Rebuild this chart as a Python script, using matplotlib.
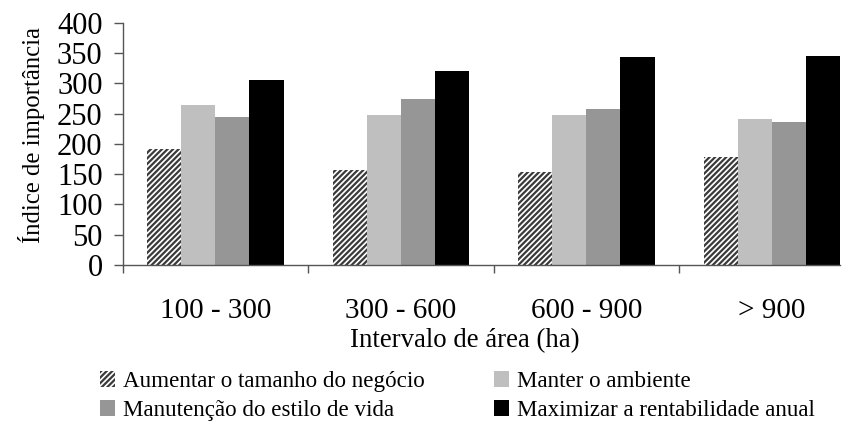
import matplotlib
matplotlib.use("Agg")
import matplotlib.pyplot as plt
import numpy as np

categories = ["100 - 300", "300 - 600", "600 - 900", "> 900"]
series_names = ["Aumentar o tamanho do negócio", "Manter o ambiente",
                "Manutenção do estilo de vida", "Maximizar a rentabilidade anual"]
aumentar = [191, 157, 153, 178]
manter = [264, 248, 248, 241]
manutencao = [244, 274, 257, 236]
maximizar = [305, 320, 343, 345]
yticks = [0, 50, 100, 150, 200, 250, 300, 350, 400]

plt.rcParams['font.family'] = ['Liberation Serif', 'DejaVu Serif']
plt.rcParams['hatch.linewidth'] = 1.6
plt.rcParams['hatch.color'] = '#3a3a3a'

fig = plt.figure(figsize=(8.58, 4.26), dpi=100)
ax = fig.add_axes([122.7/858, 1-265/426, (840-122.7)/858, (265-22.7)/426])

w = 0.1835
x = np.arange(len(categories))
data = [aumentar, manter, manutencao, maximizar]
styles = [dict(color='white', hatch='//////', edgecolor='#3a3a3a', linewidth=0),
          dict(color='#bfbfbf'),
          dict(color='#969696'),
          dict(color='black')]
handles = []
for i, (vals, st) in enumerate(zip(data, styles)):
    b = ax.bar(x + (i - 1.5) * w, vals, w, label=series_names[i], **st)
    handles.append(b)

ax.set_xlim(-0.5, 3 + 2 * w)
ax.set_ylim(0, 400)
ax.set_yticks(yticks)
ax.set_yticklabels([str(v) for v in yticks], fontsize=22)
ax.set_xticks(x)
ax.set_xticklabels(categories, fontsize=21)
ax.set_xticks([-0.5, 0.5, 1.5, 2.5], minor=True)
ax.tick_params(axis='x', which='major', length=0, pad=24)
ax.tick_params(axis='x', which='minor', length=6, width=1, direction='out', color='#555555')
ax.tick_params(axis='y', length=6.5, width=1, direction='out', color='#555555', pad=8)
for s in ['top', 'right']:
    ax.spines[s].set_visible(False)
for s in ['left', 'bottom']:
    ax.spines[s].set_color('#555555')
    ax.spines[s].set_linewidth(1)

fig.text(32/858, 1-135/426, "Índice de importância", rotation=90, fontsize=17.8,
         ha='center', va='center')
fig.text(465/858, 1-341/426, "Intervalo de área (ha)", fontsize=19.3,
         ha='center', va='center')

order = [0, 2, 1, 3]
leg = fig.legend([handles[i] for i in order], [series_names[i] for i in order],
                 ncol=2, loc='center left', bbox_to_anchor=(100/858, 1-396/426),
                 frameon=False, fontsize=16.6, handlelength=0.65, handleheight=0.65,
                 handletextpad=0.35, columnspacing=3.0, labelspacing=0.35,
                 borderpad=0, borderaxespad=0)

fig.savefig("out.png", dpi=100)
